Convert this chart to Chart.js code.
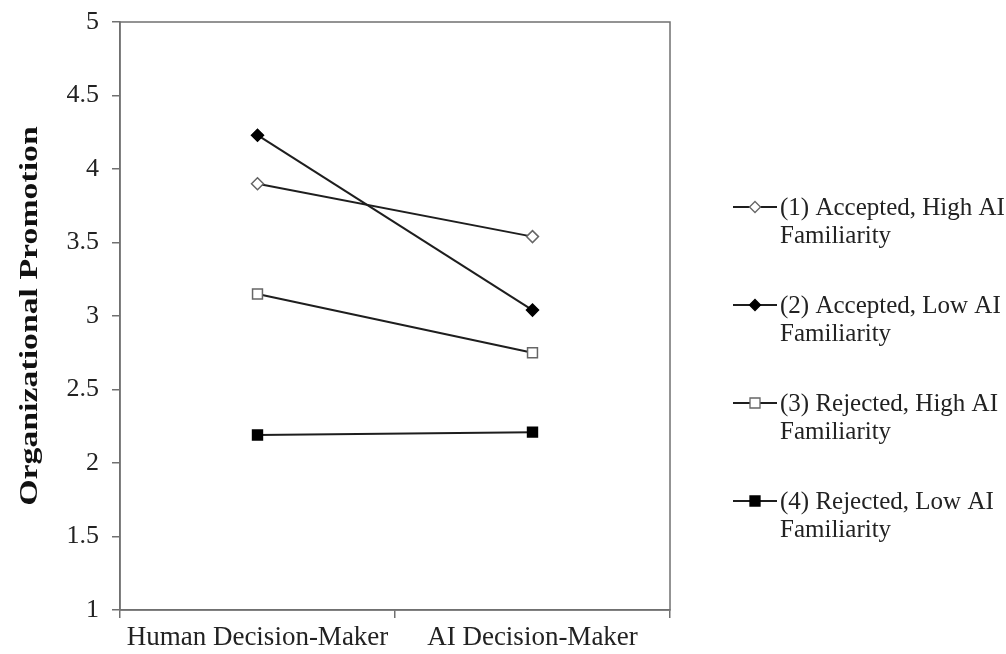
<!DOCTYPE html>
<html>
<head>
<meta charset="utf-8">
<script src="https://cdn.jsdelivr.net/npm/chart.js@4"></script>
<style>
  html, body { margin: 0; padding: 0; background: #fff; }
  #wrap { width: 1006px; height: 654px; }
</style>
</head>
<body>
<div id="wrap"><canvas id="myChart" width="1006" height="654"></canvas></div>
<script>
// data
const categories = ['Human Decision-Maker', 'AI Decision-Maker'];
const acceptedHigh = [3.90, 3.54];
const acceptedLow = [4.23, 3.04];
const rejectedHigh = [3.15, 2.75];
const rejectedLow = [2.19, 2.21];
const yTicks = [1, 1.5, 2, 2.5, 3, 3.5, 4, 4.5, 5];
const yTitle = 'Organizational Promotion';
const legendLines = [
    ['(1) Accepted, High AI', 'Familiarity'],
    ['(2) Accepted, Low AI', 'Familiarity'],
    ['(3) Rejected, High AI', 'Familiarity'],
    ['(4) Rejected, Low AI', 'Familiarity']
];

const serif = "'Liberation Serif', 'Times New Roman', serif";
const lineColor = '#1e1e1e';
const openEdge = '#666';
const axisColor = '#707070';

function series(label, values, style, filled) {
    return {
        label: label,
        data: values,
        borderColor: lineColor,
        borderWidth: 2,
        pointStyle: style,
        pointRadius: style === 'rectRot' ? 6 : 7,
        pointBackgroundColor: filled ? '#000' : '#fff',
        pointBorderColor: filled ? '#000' : openEdge,
        pointBorderWidth: 1.5,
        tension: 0
    };
}

// box round the plot, the y title and the legend on the right
const frameAndLegend = {
    id: 'frameAndLegend',
    afterDraw(chart) {
        const ctx = chart.ctx;
        const a = chart.chartArea;
        ctx.save();
        ctx.strokeStyle = axisColor;
        ctx.lineWidth = 1.5;
        ctx.strokeRect(a.left, a.top, a.right - a.left, a.bottom - a.top);

        // y title, stretched along its length like the original
        ctx.save();
        ctx.translate(30, (a.top + a.bottom) / 2);
        ctx.rotate(-Math.PI / 2);
        ctx.scale(1.3, 1);
        ctx.font = 'bold 26px ' + serif;
        ctx.fillStyle = '#111';
        ctx.textAlign = 'center';
        ctx.textBaseline = 'middle';
        ctx.fillText(yTitle, 0, 0);
        ctx.restore();

        ctx.font = '25px ' + serif;
        ctx.textBaseline = 'middle';
        chart.data.datasets.forEach((ds, i) => {
            const y = 207 + i * 98;
            ctx.strokeStyle = lineColor;
            ctx.lineWidth = 2;
            ctx.beginPath();
            ctx.moveTo(733, y);
            ctx.lineTo(777, y);
            ctx.stroke();
            ctx.beginPath();
            if (ds.pointStyle === 'rectRot') {
                ctx.moveTo(755, y - 5.5); ctx.lineTo(760.5, y);
                ctx.lineTo(755, y + 5.5); ctx.lineTo(749.5, y);
            } else {
                ctx.rect(750, y - 5, 10, 10);
            }
            ctx.closePath();
            ctx.fillStyle = ds.pointBackgroundColor;
            ctx.fill();
            ctx.strokeStyle = ds.pointBorderColor;
            ctx.lineWidth = 1.3;
            ctx.stroke();
            ctx.fillStyle = '#222';
            ctx.fillText(legendLines[i][0], 780, y + 1);
            ctx.fillText(legendLines[i][1], 780, y + 29);
        });
        ctx.restore();
    }
};

const ctx = document.getElementById('myChart').getContext('2d');
new Chart(ctx, {
    type: 'line',
    data: {
        labels: categories,
        datasets: [
            series(legendLines[0].join(' '), acceptedHigh, 'rectRot', false),
            series(legendLines[1].join(' '), acceptedLow, 'rectRot', true),
            series(legendLines[2].join(' '), rejectedHigh, 'rect', false),
            series(legendLines[3].join(' '), rejectedLow, 'rect', true)
        ]
    },
    options: {
        responsive: false,
        animation: false,
        layout: { padding: { left: 0, right: 336, top: 22, bottom: 0 } },
        plugins: {
            legend: { display: false },
            tooltip: { enabled: false }
        },
        scales: {
            x: {
                offset: true,
                grid: { display: true, offset: true, drawOnChartArea: false, drawTicks: true, tickLength: 8, color: axisColor, lineWidth: 1.5 },
                border: { display: true, color: axisColor, width: 1.5 },
                ticks: { color: '#222', font: { family: serif, size: 27 }, padding: 4, maxRotation: 0 },
                afterFit(scale) {
                    scale.height = 44;
                    scale.paddingLeft = 0;
                    scale.paddingRight = 0;
                }
            },
            y: {
                min: 1,
                max: 5,
                afterBuildTicks(scale) { scale.ticks = yTicks.map(v => ({ value: v })); },
                grid: { display: true, drawOnChartArea: false, drawTicks: true, tickLength: 8, color: axisColor, lineWidth: 1.5 },
                border: { display: true, color: axisColor, width: 1.5 },
                ticks: { color: '#222', font: { family: serif, size: 26 }, padding: 13, callback: v => String(v) },
                afterFit(scale) {
                    scale.width = 120;
                    scale.paddingTop = 0;
                    scale.paddingBottom = 0;
                }
            }
        }
    },
    plugins: [frameAndLegend]
});
</script>
</body>
</html>
